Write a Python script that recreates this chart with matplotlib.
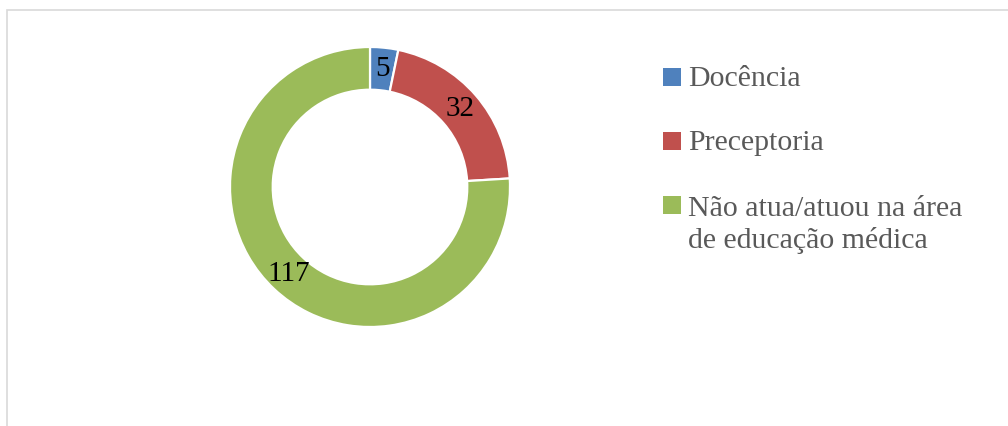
import matplotlib
matplotlib.use("Agg")
import matplotlib.pyplot as plt
from matplotlib.patches import Rectangle

categories = ["Docência", "Preceptoria", "Não atua/atuou na área\nde educação médica"]
values = [5, 32, 117]
colors = ["#4F81BD", "#C0504D", "#9BBB59"]

plt.rcParams["font.family"] = ["Liberation Serif", "DejaVu Serif"]

W, H = 1008, 426
fig = plt.figure(figsize=(W / 100, H / 100), dpi=100)

# moldura cinza do gráfico (cortada à direita e embaixo)
fig.patches.append(Rectangle((6.5 / W, -0.05), 1.1, (H - 9.5) / H + 0.05,
                             transform=fig.transFigure, fill=False,
                             edgecolor="#D9D9D9", linewidth=1.2))

cx, cy, r = 370, 187, 140
ax = fig.add_axes([(cx - r) / W, (H - cy - r) / H, 2 * r / W, 2 * r / H])

total = sum(values)
wedges, _, autotexts = ax.pie(
    values, colors=colors, startangle=90, counterclock=False,
    wedgeprops=dict(width=0.305, edgecolor="white", linewidth=1.6),
    autopct=lambda p: f"{round(p * total / 100)}", pctdistance=0.85,
    textprops=dict(fontsize=21, color="black"))
ax.set_xlim(-1, 1)
ax.set_ylim(-1, 1)
ax.axis("off")

# legenda desenhada à mão (quadrado alinhado com a primeira linha)
baselines = [86, 150, 214]
line_h = 34
for name, col, yb in zip(categories, colors, baselines):
    fig.patches.append(Rectangle((662.5 / W, 1 - yb / H), 18.5 / W, 18 / H,
                                 transform=fig.transFigure, facecolor=col,
                                 edgecolor="none"))
    # va="baseline" usa a última linha, então desce o texto
    y_last = yb + line_h * name.count("\n")
    fig.text(688 / W, 1 - y_last / H, name, fontsize=21.5, color="#595959",
             va="baseline", ha="left", linespacing=1.25)

fig.savefig("out.png", dpi=100)
